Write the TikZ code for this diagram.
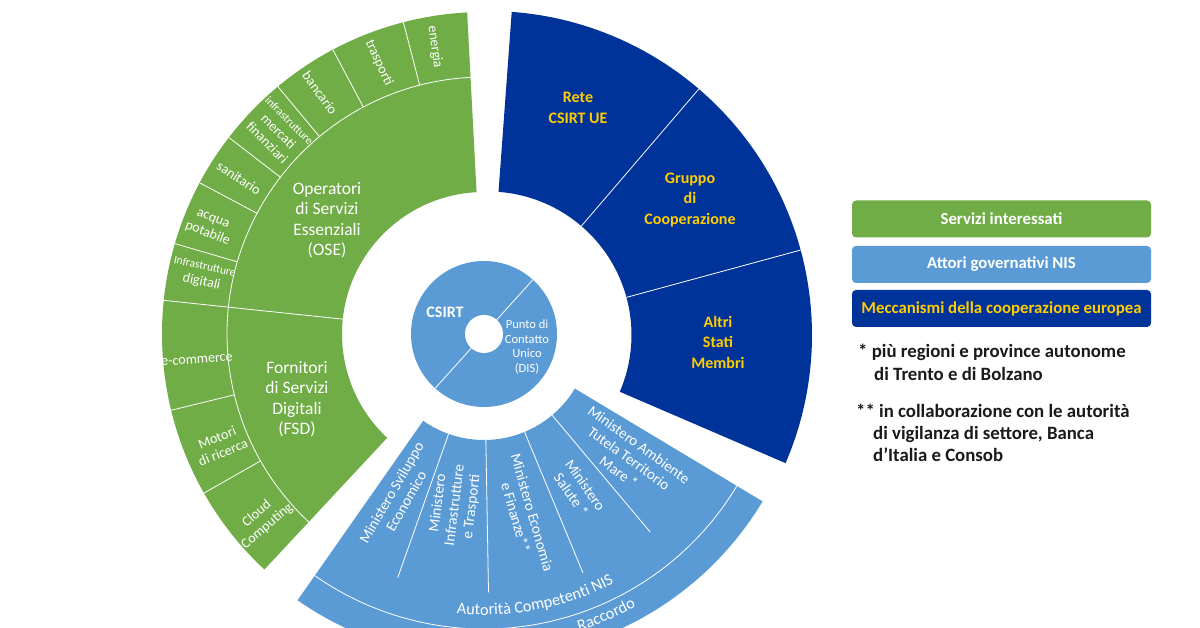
\documentclass[tikz,border=0pt]{standalone}
\usepackage{fontspec}
\setmainfont{Carlito}
\usetikzlibrary{decorations.text}
\definecolor{cgreen}{HTML}{70AD47}
\definecolor{clblue}{HTML}{5B9BD5}
\definecolor{cdblue}{HTML}{003399}
\definecolor{cyel}{HTML}{FFCC00}
\definecolor{ctext}{HTML}{1A1A1A}
\begin{document}
\begin{tikzpicture}[x=1pt,y=1pt,
  sep/.style={white,line width=0.8pt},
  lbl/.style={text=white,align=center,inner sep=0pt,font=\fontsize{14}{16}\selectfont},
  big/.style={text=white,align=center,inner sep=0pt,font=\fontsize{17.5}{20.5}\selectfont},
  eu/.style={text=cyel,align=center,inner sep=0pt,font=\bfseries\fontsize{16}{20.5}\selectfont},
  mini/.style={text=white,align=center,inner sep=0pt,font=\fontsize{15}{17}\selectfont},
  legbox/.style={rounded corners=4pt,minimum width=299pt,minimum height=37pt,inner sep=0pt,font=\bfseries\fontsize{16.8}{16.8}\selectfont},
  note/.style={text=ctext,anchor=west,align=left,inner sep=0pt,font=\bfseries\fontsize{18.8}{22.3}\selectfont}]
\useasboundingbox (0,0) rectangle (1200,628);
\clip (0,0) rectangle (1200,628);
\fill[white] (0,0) rectangle (1200,628);

% ---- green and light blue sectors, centre (484,294)
\begin{scope}[shift={(484,294)}]
  \fill[cgreen] (93:142) arc[start angle=93,end angle=227,radius=142] -- (227:322) arc[start angle=227,end angle=93,radius=322] -- cycle;
  \draw[sep] (93:257) arc[start angle=93,end angle=227,radius=257];
  \draw[sep] (174:142) -- (174:322);
  \foreach \a in {104.5,118,129.8,142.4,152,163.7,193.7,209.6} \draw[sep] (\a:257) -- (\a:322);
  % light blue
  \fill[clblue] (-125:106) arc[start angle=-125,end angle=-31,radius=106] -- (-31:325) arc[start angle=-31,end angle=-125,radius=325] -- cycle;
  \draw[sep] (-125:295) arc[start angle=-125,end angle=-31,radius=295];
  \foreach \a in {-109.5,-89,-67.5,-50} \draw[sep] (\a:106) -- (\a:258.5);
  % centre disc
  \fill[clblue] (0,0) circle[radius=73];
  \fill[white] (0,0) circle[radius=19];
  \draw[sep] (48:19) -- (48:73);
  \draw[sep] (228:19) -- (228:73);
  % curved texts
  \path[decorate,decoration={text along path,text align=center,
    text={|\fontsize{16.3}{16}\selectfont\color{white}|Autorità Competenti NIS}}]
    (-109:281) arc[start angle=-109,end angle=-49,radius=281];
  \path[decorate,decoration={text along path,text align=center,
    text={|\fontsize{16.3}{16}\selectfont\color{white}|Raccordo}}]
    (-79.5:312) arc[start angle=-79.5,end angle=-53.5,radius=312];
\end{scope}

% ---- dark blue sector, centre (488,293)
\begin{scope}[shift={(488,293)}]
  \fill[cdblue] (85.8:143.5) arc[start angle=85.8,end angle=-23.3,radius=143.5] -- (-23.3:324) arc[start angle=-23.3,end angle=85.8,radius=324] -- cycle;
  \draw[sep] (49.4:143.5) -- (49.4:324);
  \draw[sep] (15.2:143.5) -- (15.2:324);
\end{scope}

% ---- green labels
\node[big] (ose) at (327,408) {Operatori\\di Servizi\\Essenziali\\(OSE)};
\node[big] (fsd) at (297,229) {Fornitori\\di Servizi\\Digitali\\(FSD)};
\node[lbl,rotate=-82] (energia) at (435,581) {energia};
\node[lbl,rotate=-65] (trasporti) at (379,565) {trasporti};
\node[lbl,rotate=-54] (bancario) at (320,535) {bancario};
\node[lbl,rotate=-45] (mercati) at (278,496) {{\fontsize{11.5}{12}\selectfont infrastrutture}\\mercati\\finanziari};
\node[lbl,rotate=-33] (sanitario) at (239,450) {sanitario};
\node[lbl,rotate=-21] (acqua) at (210,401) {acqua\\potabile};
\node[lbl,rotate=-12] (digitali) at (203,353) {{\fontsize{11.5}{12}\selectfont Infrastrutture}\\digitali};
\node[lbl,rotate=4] (ecom) at (197,268) {e-commerce};
\node[lbl,rotate=22] (motori) at (220,183) {Motori\\di ricerca};
\node[lbl,rotate=40] (cloud) at (262,108) {Cloud\\Computing};

% ---- centre labels
\node[text=white,inner sep=0pt,font=\bfseries\fontsize{16}{16}\selectfont] (csirt) at (445,316) {CSIRT};
\node[text=white,align=center,inner sep=0pt,font=\fontsize{12.5}{14.7}\selectfont] (pcu) at (527,281) {Punto di\\Contatto\\Unico\\(DIS)};

% ---- ministries
\node[mini,rotate=60] (mse) at (398.7,131) {Ministero Sviluppo\\Economico};
\node[mini,rotate=83] (mit) at (455,123) {Ministero\\Infrastrutture\\e Trasporti};
\node[mini,rotate=-74] (mef) at (524,113) {Ministero Economia\\e Finanze**};
\node[mini,rotate=-55] (sal) at (578.3,138) {Ministero\\Salute *};
\node[mini,rotate=-36] (amb) at (629,169.5) {Ministero Ambiente\\Tutela Territorio\\Mare *};

% ---- dark blue labels
\node[eu] (rete) at (578,520) {Rete\\CSIRT UE};
\node[eu] (gruppo) at (690,428) {Gruppo\\di\\Cooperazione};
\node[eu] (altri) at (718,286) {Altri\\Stati\\Membri};

% ---- legend
\node[legbox,fill=cgreen,text=white] (leg1) at (1001.5,409) {Servizi interessati};
\node[legbox,fill=clblue,text=white] (leg2) at (1001.5,363.5) {Attori governativi NIS};
\node[legbox,fill=cdblue,text=cyel] (leg3) at (1001.5,319.5) {Meccanismi della cooperazione europea};

\node[note] (n1) at (858,265.5) {* più regioni e province autonome\\\hspace*{16pt}di Trento e di Bolzano};
\node[note] (n2) at (856,195.3) {** in collaborazione con le autorità\\\hspace*{17pt}di vigilanza di settore, Banca\\\hspace*{17pt}d’Italia e Consob};
\end{tikzpicture}
\end{document}
